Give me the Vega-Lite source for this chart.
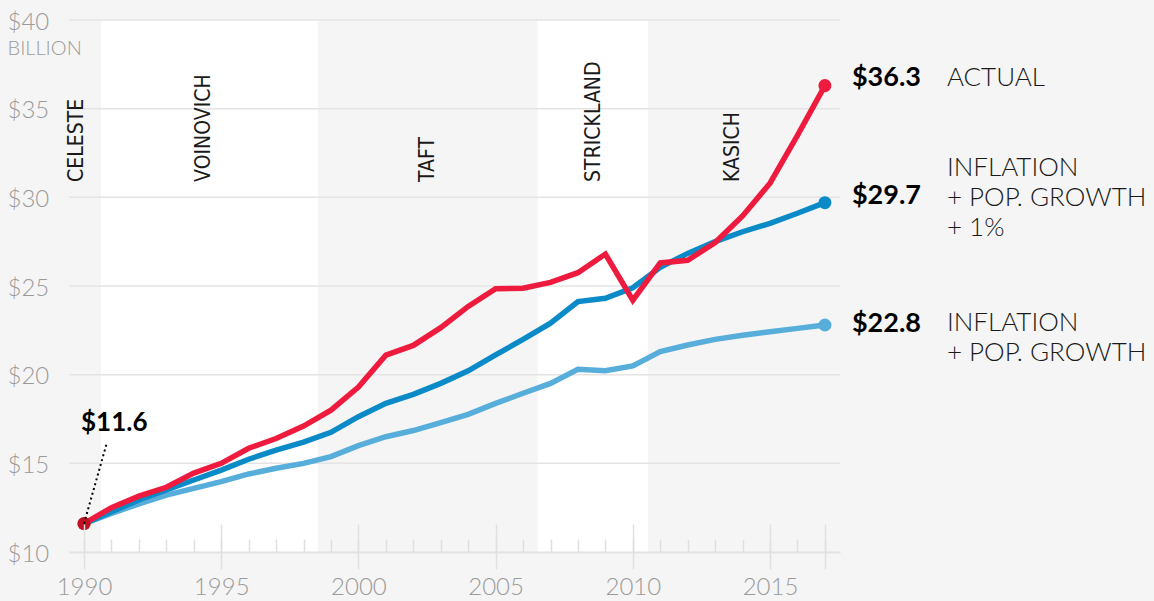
{
  "$schema": "https://vega.github.io/schema/vega-lite/v6.json",
  "width": 771,
  "height": 532,
  "autosize": {"type": "none"},
  "padding": {"left": 69, "top": 20, "right": 314, "bottom": 49},
  "background": "#f5f5f5",
  "config": {
    "view": {"stroke": null},
    "font": "Lato",
    "axisY": {"tickCount": 7, "labelExpr": "'$' + datum.value", "ticks": false, "tickSize": 0, "domain": false, "grid": false,
      "labelAlign": "left", "labelPadding": 62, "labelBaseline": "middle", "labelOffset": 2, "labelFontSize": 24, "labelColor": "#9a9a9a",
      "labelFontWeight": 300, "labelFont": "Lato",
      "titleAngle": 0, "titleX": -62, "titleY": 28, "titleAlign": "left", "titleBaseline": "middle",
      "titleFontSize": 20, "titleFontWeight": 300, "titleColor": "#9a9a9a", "titleFont": "Lato"}
  },
  "datasets": {
    "spend": [
      {"year": 1990, "series": "base", "value": 11.6},
      {"year": 1991, "series": "base", "value": 12.18},
      {"year": 1992, "series": "base", "value": 12.71},
      {"year": 1993, "series": "base", "value": 13.21},
      {"year": 1994, "series": "base", "value": 13.59},
      {"year": 1995, "series": "base", "value": 13.97},
      {"year": 1996, "series": "base", "value": 14.4},
      {"year": 1997, "series": "base", "value": 14.72},
      {"year": 1998, "series": "base", "value": 15.0},
      {"year": 1999, "series": "base", "value": 15.38},
      {"year": 2000, "series": "base", "value": 16.0},
      {"year": 2001, "series": "base", "value": 16.5},
      {"year": 2002, "series": "base", "value": 16.85},
      {"year": 2003, "series": "base", "value": 17.29},
      {"year": 2004, "series": "base", "value": 17.76},
      {"year": 2005, "series": "base", "value": 18.38},
      {"year": 2006, "series": "base", "value": 18.95},
      {"year": 2007, "series": "base", "value": 19.51},
      {"year": 2008, "series": "base", "value": 20.3},
      {"year": 2009, "series": "base", "value": 20.22},
      {"year": 2010, "series": "base", "value": 20.49},
      {"year": 2011, "series": "base", "value": 21.3},
      {"year": 2012, "series": "base", "value": 21.67},
      {"year": 2013, "series": "base", "value": 21.99},
      {"year": 2014, "series": "base", "value": 22.22},
      {"year": 2015, "series": "base", "value": 22.42},
      {"year": 2016, "series": "base", "value": 22.61},
      {"year": 2017, "series": "base", "value": 22.8},
      {"year": 1990, "series": "plus1", "value": 11.6},
      {"year": 1991, "series": "plus1", "value": 12.27},
      {"year": 1992, "series": "plus1", "value": 12.93},
      {"year": 1993, "series": "plus1", "value": 13.5},
      {"year": 1994, "series": "plus1", "value": 14.06},
      {"year": 1995, "series": "plus1", "value": 14.62},
      {"year": 1996, "series": "plus1", "value": 15.23},
      {"year": 1997, "series": "plus1", "value": 15.75},
      {"year": 1998, "series": "plus1", "value": 16.2},
      {"year": 1999, "series": "plus1", "value": 16.75},
      {"year": 2000, "series": "plus1", "value": 17.63},
      {"year": 2001, "series": "plus1", "value": 18.38},
      {"year": 2002, "series": "plus1", "value": 18.89},
      {"year": 2003, "series": "plus1", "value": 19.51},
      {"year": 2004, "series": "plus1", "value": 20.22},
      {"year": 2005, "series": "plus1", "value": 21.11},
      {"year": 2006, "series": "plus1", "value": 21.99},
      {"year": 2007, "series": "plus1", "value": 22.9},
      {"year": 2008, "series": "plus1", "value": 24.12},
      {"year": 2009, "series": "plus1", "value": 24.31},
      {"year": 2010, "series": "plus1", "value": 24.9},
      {"year": 2011, "series": "plus1", "value": 26.05},
      {"year": 2012, "series": "plus1", "value": 26.84},
      {"year": 2013, "series": "plus1", "value": 27.5},
      {"year": 2014, "series": "plus1", "value": 28.06},
      {"year": 2015, "series": "plus1", "value": 28.53},
      {"year": 2016, "series": "plus1", "value": 29.1},
      {"year": 2017, "series": "plus1", "value": 29.7},
      {"year": 1990, "series": "actual", "value": 11.6},
      {"year": 1991, "series": "actual", "value": 12.5},
      {"year": 1992, "series": "actual", "value": 13.15},
      {"year": 1993, "series": "actual", "value": 13.65},
      {"year": 1994, "series": "actual", "value": 14.45},
      {"year": 1995, "series": "actual", "value": 15.0},
      {"year": 1996, "series": "actual", "value": 15.85},
      {"year": 1997, "series": "actual", "value": 16.4},
      {"year": 1998, "series": "actual", "value": 17.1},
      {"year": 1999, "series": "actual", "value": 18.0},
      {"year": 2000, "series": "actual", "value": 19.3},
      {"year": 2001, "series": "actual", "value": 21.1},
      {"year": 2002, "series": "actual", "value": 21.65},
      {"year": 2003, "series": "actual", "value": 22.65},
      {"year": 2004, "series": "actual", "value": 23.85},
      {"year": 2005, "series": "actual", "value": 24.85},
      {"year": 2006, "series": "actual", "value": 24.87},
      {"year": 2007, "series": "actual", "value": 25.2},
      {"year": 2008, "series": "actual", "value": 25.75},
      {"year": 2009, "series": "actual", "value": 26.8},
      {"year": 2010, "series": "actual", "value": 24.2},
      {"year": 2011, "series": "actual", "value": 26.3},
      {"year": 2012, "series": "actual", "value": 26.45},
      {"year": 2013, "series": "actual", "value": 27.45},
      {"year": 2014, "series": "actual", "value": 28.95},
      {"year": 2015, "series": "actual", "value": 30.8},
      {"year": 2016, "series": "actual", "value": 33.5},
      {"year": 2017, "series": "actual", "value": 36.3}
    ],
    "gov": [
      {"governor": "CELESTE", "start": 1989.45, "end": 1990.62, "label_at": 1989.74, "shaded": false},
      {"governor": "VOINOVICH", "start": 1990.62, "end": 1998.52, "label_at": 1994.38, "shaded": true},
      {"governor": "TAFT", "start": 1998.52, "end": 2006.53, "label_at": 2002.53, "shaded": false},
      {"governor": "STRICKLAND", "start": 2006.53, "end": 2010.55, "label_at": 2008.58, "shaded": true},
      {"governor": "KASICH", "start": 2010.55, "end": 2017.55, "label_at": 2013.65, "shaded": false}
    ],
    "grid": [{"v": 15}, {"v": 20}, {"v": 25}, {"v": 30}, {"v": 35}, {"v": 40}]
  },
  "layer": [
    {
      "data": {"name": "gov"},
      "transform": [{"filter": "datum.shaded"}],
      "mark": {"type": "rect", "color": "#ffffff"},
      "encoding": {
        "x": {"field": "start", "type": "quantitative", "scale": {"domain": [1989.453, 2017.55], "nice": false, "zero": false},
          "axis": {"orient": "bottom", "values": [1990,1991,1992,1993,1994,1995,1996,1997,1998,1999,2000,2001,2002,2003,2004,2005,2006,2007,2008,2009,2010,2011,2012,2013,2014,2015,2016,2017],
            "tickSize": -13, "labels": false, "domain": true, "domainColor": "#e2e2e2", "domainWidth": 2,
            "tickColor": "#e0e0e0", "tickWidth": 1.5, "grid": false, "title": null, "zindex": 1}},
        "x2": {"field": "end"}
      }
    },
    {
      "data": {"name": "grid"},
      "mark": {"type": "rule", "color": "#e4e4e4", "strokeWidth": 1.5},
      "encoding": {
        "y": {"field": "v", "type": "quantitative", "scale": {"domain": [10, 40], "nice": false, "zero": false}, "title": "BILLION",
          "axis": {"values": [10,15,20,25,30,35,40]}}
      }
    },
    {
      "data": {"name": "gov"},
      "mark": {"type": "text", "angle": 270, "align": "left", "baseline": "middle", "font": "DejaVu Sans Condensed, Liberation Sans Narrow, sans-serif", "fontSize": 21, "color": "#1a1a1a"},
      "encoding": {
        "x": {"field": "label_at", "type": "quantitative", "axis": null},
        "y": {"datum": 30.87, "type": "quantitative", "title": "BILLION", "axis": {"values": [10,15,20,25,30,35,40]}},
        "text": {"field": "governor"}
      }
    },
    {
      "data": {"name": "spend"},
      "mark": {"type": "line", "strokeWidth": 5.5},
      "encoding": {
        "x": {"field": "year", "type": "quantitative",
          "axis": {"orient": "bottom", "values": [1990,1995,2000,2005,2010,2015,2017], "tickSize": -28, "labels": false, "domain": false,
            "tickColor": "#e0e0e0", "tickWidth": 1.5, "grid": false, "title": null, "zindex": 1}},
        "y": {"field": "value", "type": "quantitative", "title": "BILLION", "axis": {"values": [10,15,20,25,30,35,40]}},
        "color": {"field": "series", "type": "nominal", "legend": null,
          "scale": {"domain": ["base", "plus1", "actual"], "range": ["#57aedb", "#0a8bc8", "#ee1b3f"]}},
        "order": {"field": "year"}
      }
    },
    {
      "data": {"name": "spend"},
      "transform": [{"filter": "datum.year == 2017"}],
      "mark": {"type": "point", "filled": true, "opacity": 1, "size": 170},
      "encoding": {
        "x": {"field": "year", "type": "quantitative",
          "axis": {"orient": "bottom", "values": [1990,1995,2000,2005,2010,2015,2017], "tickSize": 17,
            "labelExpr": "datum.value == 2017 ? '' : '' + datum.value", "labelFontSize": 24, "labelColor": "#9a9a9a", "labelFont": "Lato", "labelFontWeight": 300,
            "labelPadding": 6, "domain": false, "tickColor": "#e0e0e0", "tickWidth": 1.5, "grid": false, "title": null, "zindex": 1}},
        "y": {"field": "value", "type": "quantitative", "title": "BILLION", "axis": {"values": [10,15,20,25,30,35,40]}},
        "color": {"field": "series", "type": "nominal", "legend": null}
      }
    },
    {
      "data": {"name": "spend"},
      "transform": [{"filter": "datum.year == 1990 && datum.series == 'actual'"}],
      "mark": {"type": "point", "filled": true, "opacity": 1, "size": 180, "color": "#bf1024"},
      "encoding": {
        "x": {"field": "year", "type": "quantitative", "axis": null},
        "y": {"field": "value", "type": "quantitative", "title": "BILLION", "axis": {"values": [10,15,20,25,30,35,40]}}
      }
    },
    {
      "data": {"name": "spend"},
      "transform": [{"filter": "datum.year == 1990 && datum.series == 'actual'"}],
      "mark": {"type": "rule", "color": "#000000", "strokeWidth": 2, "strokeDash": [2, 3]},
      "encoding": {
        "x": {"field": "year", "type": "quantitative", "axis": null},
        "y": {"field": "value", "type": "quantitative", "title": "BILLION", "axis": {"values": [10,15,20,25,30,35,40]}},
        "x2": {"datum": 1990.84},
        "y2": {"datum": 16.2}
      }
    },
    {
      "data": {"name": "spend"},
      "transform": [{"filter": "datum.year == 1990 && datum.series == 'actual'"}],
      "mark": {"type": "text", "align": "left", "baseline": "middle", "dx": -3, "dy": -101, "fontSize": 26, "fontWeight": "bold", "font": "Lato", "color": "#000000"},
      "encoding": {
        "x": {"field": "year", "type": "quantitative", "axis": null},
        "y": {"field": "value", "type": "quantitative", "title": "BILLION", "axis": {"values": [10,15,20,25,30,35,40]}},
        "text": {"field": "value", "type": "quantitative", "format": "$.1f"}
      }
    },
    {
      "data": {"name": "spend"},
      "transform": [{"filter": "datum.year == 2017 && datum.series == 'actual'"}],
      "layer": [
        {"mark": {"type": "text", "align": "left", "baseline": "middle", "dx": 27, "dy": -8, "fontSize": 27, "fontWeight": "bold", "font": "Lato", "color": "#000000"},
         "encoding": {"text": {"field": "value", "type": "quantitative", "format": "$.1f"}}},
        {"mark": {"type": "text", "align": "left", "baseline": "middle", "dx": 122, "dy": -8, "fontSize": 26, "fontWeight": 300, "font": "Lato", "color": "#1a1a1a"},
         "encoding": {"text": {"value": "ACTUAL"}}}
      ],
      "encoding": {
        "x": {"field": "year", "type": "quantitative", "axis": null},
        "y": {"field": "value", "type": "quantitative", "title": "BILLION", "axis": {"values": [10,15,20,25,30,35,40]}}
      }
    },
    {
      "data": {"name": "spend"},
      "transform": [{"filter": "datum.year == 2017 && datum.series == 'plus1'"}],
      "layer": [
        {"mark": {"type": "text", "align": "left", "baseline": "middle", "dx": 27, "dy": -7, "fontSize": 27, "fontWeight": "bold", "font": "Lato", "color": "#000000"},
         "encoding": {"text": {"field": "value", "type": "quantitative", "format": "$.1f"}}},
        {"mark": {"type": "text", "align": "left", "baseline": "middle", "dx": 122, "dy": -35, "lineHeight": 30, "fontSize": 26, "fontWeight": 300, "font": "Lato", "color": "#1a1a1a"},
         "encoding": {"text": {"value": ["INFLATION", "+ POP. GROWTH", "+ 1%"]}}}
      ],
      "encoding": {
        "x": {"field": "year", "type": "quantitative", "axis": null},
        "y": {"field": "value", "type": "quantitative", "title": "BILLION", "axis": {"values": [10,15,20,25,30,35,40]}}
      }
    },
    {
      "data": {"name": "spend"},
      "transform": [{"filter": "datum.year == 2017 && datum.series == 'base'"}],
      "layer": [
        {"mark": {"type": "text", "align": "left", "baseline": "middle", "dx": 27, "dy": -1, "fontSize": 27, "fontWeight": "bold", "font": "Lato", "color": "#000000"},
         "encoding": {"text": {"field": "value", "type": "quantitative", "format": "$.1f"}}},
        {"mark": {"type": "text", "align": "left", "baseline": "middle", "dx": 122, "dy": -2, "lineHeight": 30, "fontSize": 26, "fontWeight": 300, "font": "Lato", "color": "#1a1a1a"},
         "encoding": {"text": {"value": ["INFLATION", "+ POP. GROWTH"]}}}
      ],
      "encoding": {
        "x": {"field": "year", "type": "quantitative", "axis": null},
        "y": {"field": "value", "type": "quantitative", "title": "BILLION", "axis": {"values": [10,15,20,25,30,35,40]}}
      }
    }
  ],
  "resolve": {"axis": {"x": "independent"}}
}
